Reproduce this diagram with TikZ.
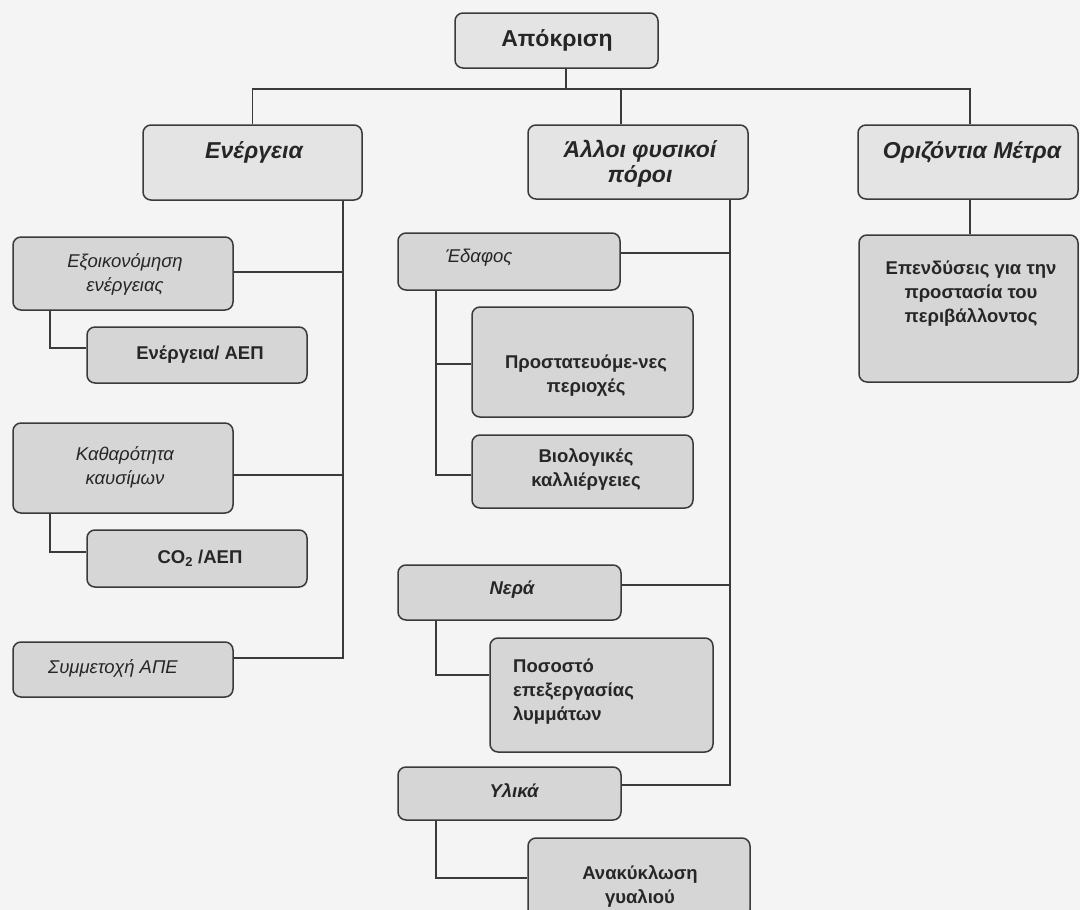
\documentclass[tikz,border=0pt]{standalone}
\usepackage{fontspec}
\setmainfont{Liberation Sans}
\usetikzlibrary{calc,fit}

\definecolor{paper}{HTML}{F4F4F4}
\definecolor{topfill}{HTML}{E4E4E4}
\definecolor{subfill}{HTML}{D6D6D6}
\definecolor{edge}{HTML}{3A3A3A}
\definecolor{ink}{HTML}{262626}

\begin{document}
\begin{tikzpicture}[x=1pt,y=-1pt,
  box/.style={draw=edge, line width=1.5pt, rounded corners=8pt, fill=subfill, inner sep=0pt},
  topbox/.style={box, fill=topfill},
  lbl/.style={font=\fontsize{18.5}{24}\selectfont, align=center, inner sep=0pt, text=ink},
  headlbl/.style={lbl, font=\fontsize{23}{24.5}\selectfont\bfseries\itshape},
  rootlbl/.style={lbl, font=\fontsize{23}{24.5}\selectfont\bfseries},
  catlbl/.style={lbl, font=\fontsize{18.5}{24}\selectfont\itshape},
  catblbl/.style={lbl, font=\fontsize{18.5}{24}\selectfont\bfseries\itshape},
  indlbl/.style={lbl, font=\fontsize{18.5}{24}\selectfont\bfseries},
  link/.style={draw=edge, line width=1.5pt}]

\useasboundingbox[fill=paper] (0,0) rectangle (1080,910);

% ---------- boxes ----------
\node[topbox, fit={(455,13) (658,68)}]   (apok)  {};
\node[topbox, fit={(143,125) (362,200)}] (ener)  {};
\node[topbox, fit={(528,125) (748,199)}] (allo)  {};
\node[topbox, fit={(858,125) (1078,199)}] (oriz) {};

\node[box, fit={(859,235) (1078,382)}] (epen)  {};

\node[box, fit={(13,237) (233,310)}]   (exo)   {};
\node[box, fit={(87,327) (307,383)}]   (ea)    {};
\node[box, fit={(13,423) (233,513)}]   (kath)  {};
\node[box, fit={(87,530) (307,587)}]   (co2)   {};
\node[box, fit={(13,642) (233,697)}]   (symm)  {};

\node[box, fit={(398,233) (620,290)}]  (edaf)  {};
\node[box, fit={(472,307) (693,417)}]  (prot)  {};
\node[box, fit={(472,435) (693,508)}]  (biol)  {};
\node[box, fit={(398,565) (621,620)}]  (nera)  {};
\node[box, fit={(490,638) (713,752)}]  (posos) {};
\node[box, fit={(398,767) (621,820)}]  (yli)   {};
\node[box, fit={(528,838) (750,918)}]  (anak)  {};

% ---------- texts ----------
\node[rootlbl] (apok-t)  at (557,40)  {Απόκριση};
\node[headlbl] (ener-t)  at (254,152) {Ενέργεια};
\node[headlbl] (allo-t)  at (640,164) {Άλλοι φυσικοί\\πόροι};
\node[headlbl] (oriz-t)  at (972,152) {Οριζόντια Μέτρα};
\node[indlbl]  (epen-t)  at (971,294) {Επενδύσεις για την\\προστασία του\\περιβάλλοντος};

\node[catlbl]  (exo-t)   at (125,274) {Εξοικονόμηση\\ενέργειας};
\node[indlbl]  (ea-t)    at (200,355) {Ενέργεια/ ΑΕΠ};
\node[catlbl]  (kath-t)  at (125,467) {Καθαρότητα\\καυσίμων};
\node[indlbl]  (co2-t)   at (200,558) {CO\textsubscript{2} /ΑΕΠ};
\node[catlbl]  (symm-t)  at (113,668) {Συμμετοχή ΑΠΕ};

\node[catlbl]  (edaf-t)  at (479,258) {Έδαφος};
\node[indlbl]  (prot-t)  at (586,376) {Προστατευόμε-νες\\περιοχές};
\node[indlbl]  (biol-t)  at (586,469) {Βιολογικές\\καλλιέργειες};
\node[catblbl] (nera-t)  at (512,590) {Νερά};
\node[indlbl, align=left, anchor=west] (posos-t) at (513,692) {Ποσοστό\\επεξεργασίας\\λυμμάτων};
\node[catblbl] (yli-t)   at (514,791) {Υλικά};
\node[indlbl]  (anak-t)  at (640,886) {Ανακύκλωση\\γυαλιού};

% ---------- helper columns and rows for the connectors ----------
\coordinate (busY) at (0,89);
\coordinate (xA)   at (566,0);
\coordinate (xAl)  at (621,0);
\coordinate (xO)   at (970,0);
\coordinate (xE)   at (343,0);
\coordinate (xE2)  at (50,0);
\coordinate (xF)   at (730,0);
\coordinate (xG)   at (436,0);
\coordinate (yExo) at (0,272);
\coordinate (yEa)  at (0,348);
\coordinate (yKa)  at (0,475);
\coordinate (yCo)  at (0,552);
\coordinate (ySy)  at (0,658);
\coordinate (yEd)  at (0,253);
\coordinate (yPr)  at (0,364);
\coordinate (yBi)  at (0,475);
\coordinate (yNe)  at (0,585);
\coordinate (yPo)  at (0,675);
\coordinate (yYl)  at (0,785);
\coordinate (yAn)  at (0,878);

% ---------- top level ----------
\draw[link] (apok.south -| xA) -- (xA |- busY);
\draw[link] (ener.north) -- (ener.north |- busY) -- (xO |- busY) -- (oriz.north -| xO);
\draw[link] (allo.north -| xAl) -- (xAl |- busY);
\draw[link] (oriz.south -| xO) -- (epen.north -| xO);

% ---------- energy column ----------
\draw[link] (ener.south -| xE) -- (xE |- ySy) -- (symm.east |- ySy);
\draw[link] (exo.east |- yExo) -- (xE |- yExo);
\draw[link] (kath.east |- yKa) -- (xE |- yKa);
\draw[link] (exo.south -| xE2) -- (xE2 |- yEa) -- (ea.west |- yEa);
\draw[link] (kath.south -| xE2) -- (xE2 |- yCo) -- (co2.west |- yCo);

% ---------- natural resources column ----------
\draw[link] (allo.south -| xF) -- (xF |- yYl) -- (yli.east |- yYl);
\draw[link] (edaf.east |- yEd) -- (xF |- yEd);
\draw[link] (nera.east |- yNe) -- (xF |- yNe);
\draw[link] (edaf.south -| xG) -- (xG |- yBi) -- (biol.west |- yBi);
\draw[link] (xG |- yPr) -- (prot.west |- yPr);
\draw[link] (nera.south -| xG) -- (xG |- yPo) -- (posos.west |- yPo);
\draw[link] (yli.south -| xG) -- (xG |- yAn) -- (anak.west |- yAn);
\end{tikzpicture}
\end{document}
